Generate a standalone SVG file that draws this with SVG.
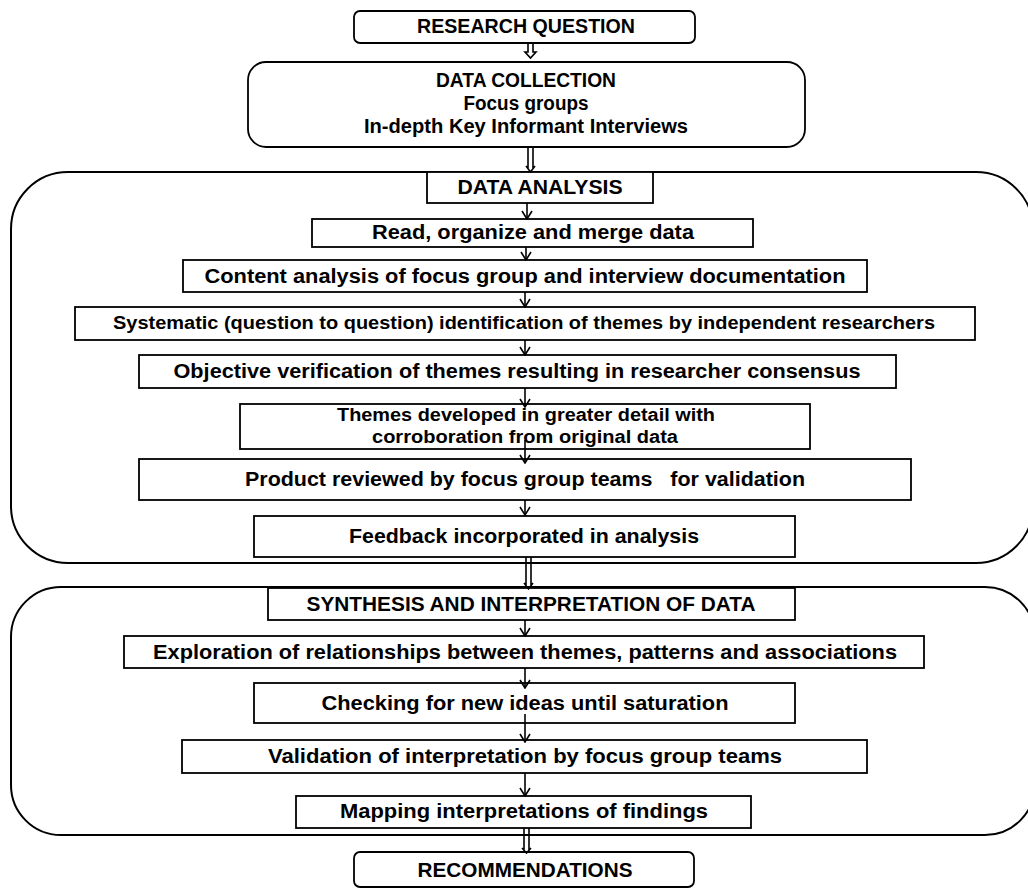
<svg xmlns="http://www.w3.org/2000/svg" width="1028" height="890" viewBox="0 0 1028 890">
<defs>
<marker id="v" markerWidth="10" markerHeight="12" refX="9" refY="6" orient="auto" markerUnits="userSpaceOnUse" viewBox="0 0 10 12">
<path d="M1,1 L9,6 L1,11" fill="none" stroke="#000" stroke-width="1.6"/>
</marker>
</defs>
<style>
.box{fill:#fff;stroke:#000;stroke-width:1.8}
.cont{fill:#fff;stroke:#000;stroke-width:2}
.t{font-family:"Liberation Sans",Arial,sans-serif;font-weight:700;font-size:20px;fill:#000;text-anchor:middle;white-space:pre}
.s{font-size:18px}
.ln{fill:none;stroke:#000;stroke-width:1.6}
.ar{fill:none;stroke:#000;stroke-width:1.6;marker-end:url(#v)}
</style>
<rect width="1028" height="890" fill="#fff"/>

<g id="container-analysis"><rect class="cont" x="11" y="172" width="1022" height="391" rx="57" ry="57"/></g>
<g id="container-synthesis"><rect class="cont" x="11" y="587" width="1024" height="248" rx="50" ry="50"/></g>

<g id="research-question"><rect class="box" x="354" y="11" width="341" height="32" rx="6"/><text class="t" x="526" y="33" font-size="21" textLength="218" lengthAdjust="spacingAndGlyphs">RESEARCH QUESTION</text></g>

<g id="data-collection"><rect class="box" x="248" y="62" width="557" height="85" rx="18"/>
<text class="t" x="526" y="87" textLength="180" lengthAdjust="spacingAndGlyphs">DATA COLLECTION</text>
<text class="t" x="526" y="110" textLength="125" lengthAdjust="spacingAndGlyphs">Focus groups</text>
<text class="t" x="526" y="133" textLength="324" lengthAdjust="spacingAndGlyphs">In-depth Key Informant Interviews</text></g>

<g id="data-analysis"><rect class="box" x="427" y="172" width="226" height="31"/><text class="t" x="540" y="194" textLength="165" lengthAdjust="spacingAndGlyphs">DATA ANALYSIS</text></g>
<g id="read"><rect class="box" x="312" y="219" width="441" height="28"/><text class="t" x="533" y="239" textLength="322" lengthAdjust="spacingAndGlyphs">Read, organize and merge data</text></g>
<g id="content"><rect class="box" x="183" y="260" width="684" height="32"/><text class="t" x="525" y="283" textLength="641" lengthAdjust="spacingAndGlyphs">Content analysis of focus group and interview documentation</text></g>
<g id="systematic"><rect class="box" x="75" y="307" width="900" height="33"/><text class="t s" x="524" y="329" textLength="822" lengthAdjust="spacingAndGlyphs">Systematic (question to question) identification of themes by independent researchers</text></g>
<g id="objective"><rect class="box" x="139" y="355" width="757" height="33"/><text class="t" x="517" y="378" textLength="687" lengthAdjust="spacingAndGlyphs">Objective verification of themes resulting in researcher consensus</text></g>
<g id="themes"><rect class="box" x="240" y="404" width="570" height="45"/>
<text class="t s" x="526" y="421" textLength="378" lengthAdjust="spacingAndGlyphs">Themes developed in greater detail with</text>
<text class="t s" x="525" y="443" textLength="306" lengthAdjust="spacingAndGlyphs">corroboration from original data</text></g>
<g id="product"><rect class="box" x="139" y="459" width="772" height="41"/><text class="t" x="525" y="486" textLength="560" lengthAdjust="spacingAndGlyphs">Product reviewed by focus group teams   for validation</text></g>
<g id="feedback"><rect class="box" x="254" y="516" width="541" height="41"/><text class="t" x="524" y="543" textLength="350" lengthAdjust="spacingAndGlyphs">Feedback incorporated in analysis</text></g>

<g id="synthesis"><rect class="box" x="268" y="588" width="527" height="32"/><text class="t" x="531" y="611" textLength="449" lengthAdjust="spacingAndGlyphs">SYNTHESIS AND INTERPRETATION OF DATA</text></g>
<g id="exploration"><rect class="box" x="124" y="636" width="800" height="32"/><text class="t" x="525" y="659" textLength="744" lengthAdjust="spacingAndGlyphs">Exploration of relationships between themes, patterns and associations</text></g>
<g id="checking"><rect class="box" x="254" y="683" width="541" height="40"/><text class="t" x="525" y="710" textLength="407" lengthAdjust="spacingAndGlyphs">Checking for new ideas until saturation</text></g>
<g id="validation"><rect class="box" x="182" y="740" width="685" height="33"/><text class="t" x="525" y="763" textLength="514" lengthAdjust="spacingAndGlyphs">Validation of interpretation by focus group teams</text></g>
<g id="mapping"><rect class="box" x="296" y="796" width="455" height="32"/><text class="t" x="524" y="818" textLength="368" lengthAdjust="spacingAndGlyphs">Mapping interpretations of findings</text></g>

<g id="recommendations"><rect class="box" x="354" y="852" width="340" height="35" rx="6"/><text class="t" x="525" y="877" textLength="215" lengthAdjust="spacingAndGlyphs">RECOMMENDATIONS</text></g>

<g id="connectors">
<path class="ln" d="M528,43 V52 H525 L530.5,58 L536,52 H533 V43"/>
<path class="ln" d="M528,147 V168 M533,147 V168 M526,166 L530.5,172 L535,166"/>
<line class="ar" x1="527" y1="203" x2="527" y2="219"/>
<line class="ar" x1="526" y1="247" x2="526" y2="260"/>
<line class="ar" x1="525" y1="292" x2="525" y2="307"/>
<line class="ar" x1="525" y1="340" x2="525" y2="355"/>
<line class="ar" x1="525" y1="388" x2="525" y2="407"/>
<line class="ar" x1="525" y1="440" x2="525" y2="463"/>
<line class="ar" x1="525" y1="500" x2="525" y2="515"/>
<path class="ln" d="M526,557 V585 M531,557 V585 M524,583 L528.5,589 L533,583"/>
<line class="ar" x1="525" y1="620" x2="525" y2="636"/>
<line class="ar" x1="525" y1="668" x2="525" y2="688"/>
<line class="ar" x1="525" y1="714" x2="525" y2="742"/>
<line class="ar" x1="525" y1="773" x2="525" y2="796"/>
<path class="ln" d="M524,828 V850 M529,828 V850 M522,848 L526.5,853 L531,848"/>
</g>
</svg>
